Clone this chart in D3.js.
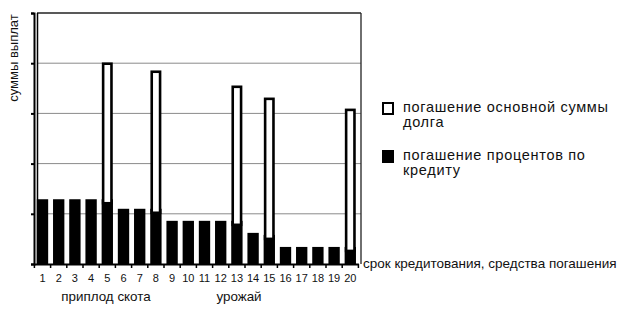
<!DOCTYPE html>
<html>
<head>
<meta charset="utf-8">
<script src="https://cdn.jsdelivr.net/npm/d3@7"></script>
<style>
  body { margin: 0; background: #fff; }
  text { font-family: "Liberation Sans", Arial, sans-serif; fill: #111; }
</style>
</head>
<body>
<div id="chart"></div>
<script>
// Data (units = gridline steps)
const periods = d3.range(1, 21).map(String);
const interest = [1.29, 1.29, 1.29, 1.29, 1.29, 1.1, 1.1, 1.1, 0.86, 0.86,
                  0.86, 0.86, 0.86, 0.62, 0.58, 0.34, 0.34, 0.34, 0.34, 0.34];
const principal = [0, 0, 0, 0, 2.7, 0, 0, 2.73, 0, 0,
                   0, 0, 2.67, 0, 2.71, 0, 0, 0, 0, 2.73];
const yTicks = [0, 1, 2, 3, 4, 5];
const groupLabels = ["приплод скота", "урожай"];
const legendItems = [
  { lines: ["погашение основной суммы", "долга"], fill: "#fff" },
  { lines: ["погашение процентов по", "кредиту"], fill: "#000" }
];

const W = 631, H = 311;
const plotLeft = 34, plotRight = 361, plotTop = 13, plotBottom = 264;

const svg = d3.select("#chart")
    .append("svg")
    .attr("width", W)
    .attr("height", H);

const x = d3.scaleBand()
    .domain(periods)
    .range([34.4, 358.4])
    .paddingInner(0.3)
    .paddingOuter(0.15);

const y = d3.scaleLinear()
    .domain([0, 5])
    .range([plotBottom, plotTop]);

// gridlines
svg.append("g")
    .selectAll("line")
    .data(yTicks.filter(d => d > 0 && d < 5))
    .join("line")
    .attr("x1", plotLeft + 3)
    .attr("x2", plotRight)
    .attr("y1", d => y(d))
    .attr("y2", d => y(d))
    .attr("stroke", "#8a8a8a")
    .attr("stroke-width", 1);

// frame: top and right wall
svg.append("line")
    .attr("x1", plotLeft + 3).attr("x2", plotRight)
    .attr("y1", y(5)).attr("y2", y(5))
    .attr("stroke", "#222").attr("stroke-width", 1.3);
svg.append("line")
    .attr("x1", plotRight).attr("x2", plotRight)
    .attr("y1", y(5)).attr("y2", y(0))
    .attr("stroke", "#222").attr("stroke-width", 1.3);

// left wall (double line with ticks)
const yAxis = svg.append("g")
    .attr("transform", `translate(${plotLeft},0)`)
    .call(d3.axisLeft(y).tickValues(yTicks).tickSize(3).tickFormat(""));
yAxis.select(".domain").attr("stroke", "#000").attr("stroke-width", 2);
yAxis.selectAll(".tick line").attr("stroke", "#000").attr("stroke-width", 2);
svg.append("line")
    .attr("x1", plotLeft + 3.5).attr("x2", plotLeft + 3.5)
    .attr("y1", y(5)).attr("y2", y(0))
    .attr("stroke", "#000").attr("stroke-width", 1.5);

// interest bars (black)
svg.append("g")
    .selectAll("rect")
    .data(periods)
    .join("rect")
    .attr("x", d => x(d))
    .attr("width", x.bandwidth())
    .attr("y", (d, i) => y(interest[i]))
    .attr("height", (d, i) => y(0) - y(interest[i]))
    .attr("fill", "#000");

// principal bars (hollow, stacked on top)
const pIdx = periods.map((d, i) => i).filter(i => principal[i] > 0);
svg.append("g")
    .selectAll("rect")
    .data(pIdx)
    .join("rect")
    .attr("x", i => x(periods[i]) + 1.5)
    .attr("width", x.bandwidth() - 3)
    .attr("y", i => y(interest[i] + principal[i]))
    .attr("height", i => y(interest[i]) - y(interest[i] + principal[i]) + 4)
    .attr("fill", "#fff")
    .attr("stroke", "#000")
    .attr("stroke-width", 2.6);

// x axis
const xAxis = svg.append("g")
    .attr("transform", `translate(0,${plotBottom})`)
    .call(d3.axisBottom(x).tickSize(0).tickPadding(10));
xAxis.select(".domain").attr("stroke", "#000").attr("stroke-width", 2);
xAxis.selectAll(".tick text")
    .attr("font-size", 11)
    .attr("fill", "#111");
// tick marks between bars
xAxis.selectAll("line.sep")
    .data(d3.range(0, 21))
    .join("line")
    .attr("class", "sep")
    .attr("x1", i => 34.4 + i * x.step())
    .attr("x2", i => 34.4 + i * x.step())
    .attr("y1", 0).attr("y2", 4)
    .attr("stroke", "#000").attr("stroke-width", 1.5);

// group labels under the axis
svg.append("text")
    .attr("x", 106).attr("y", 301)
    .attr("text-anchor", "middle")
    .attr("font-size", 13.4)
    .text(groupLabels[0]);
svg.append("text")
    .attr("x", 239).attr("y", 301)
    .attr("text-anchor", "middle")
    .attr("font-size", 13.4)
    .text(groupLabels[1]);

// axis titles
svg.append("text")
    .attr("transform", "translate(18,58) rotate(-90)")
    .attr("text-anchor", "middle")
    .attr("font-size", 13)
    .text("суммы выплат");
svg.append("text")
    .attr("x", 363).attr("y", 268)
    .attr("font-size", 13.5)
    .text("срок кредитования, средства погашения");

// legend
const legend = svg.append("g").attr("transform", "translate(382,102)");
const li = legend.selectAll("g")
    .data(legendItems)
    .join("g")
    .attr("transform", (d, i) => `translate(0,${i * 48})`);
li.append("rect")
    .attr("x", 1).attr("y", 1)
    .attr("width", 10).attr("height", 11)
    .attr("fill", d => d.fill)
    .attr("stroke", "#000")
    .attr("stroke-width", 2);
li.each(function (d) {
    const t = d3.select(this).append("text")
        .attr("x", 21).attr("y", 10)
        .attr("font-size", 14.5)
        .attr("letter-spacing", 0.7);
    d.lines.forEach((s, k) => {
        t.append("tspan").attr("x", 21).attr("dy", k === 0 ? 0 : 15).text(s);
    });
});
</script>
</body>
</html>
